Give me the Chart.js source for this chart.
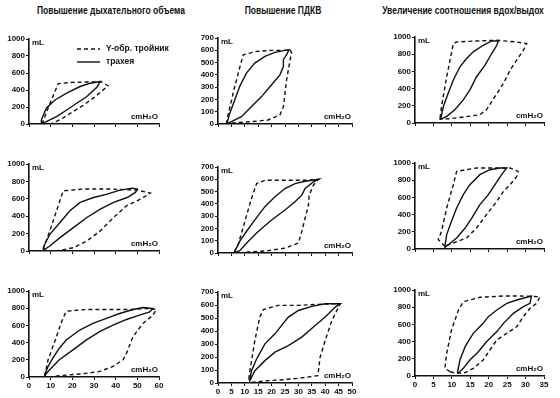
<!DOCTYPE html>
<html><head><meta charset="utf-8">
<script src="https://cdn.jsdelivr.net/npm/chart.js@4.4.1/dist/chart.umd.min.js"></script>
<style>
html,body{margin:0;padding:0;background:#fff}
body{width:560px;height:398px;position:relative;overflow:hidden;font-family:'Liberation Sans',Arial,sans-serif}
.t{position:absolute;font-weight:bold;font-size:10px;white-space:nowrap;color:#111;transform:translateX(-50%) scaleX(0.85)}
canvas{position:absolute}
</style></head><body>
<script>
// ---- text ----
const titles = ['Повышение дыхательного объема', 'Повышение ПДКВ', 'Увеличение соотношения вдох/выдох'];
const legendLabels = ['Y-обр. тройник', 'трахея'];
const yUnit = 'mL';
const xUnit = 'cmH₂O';

// ---- tick labels ----
const xTicksVT = [0, 10, 20, 30, 40, 50, 60];
const xTicksPEEP = [0, 5, 10, 15, 20, 25, 30, 35, 40, 45, 50];
const xTicksIE = [0, 5, 10, 15, 20, 25, 30, 35];
const yTicks1000 = [0, 200, 400, 600, 800, 1000];
const yTicks700 = [0, 100, 200, 300, 400, 500, 600, 700];

// ---- loops [pressure cmH2O, volume mL]; Y = Y-piece (dashed), T = trachea (solid) ----
const vt1Y = [[6,0],[9,200],[13.5,475],[20,490],[27,495],[33.5,495],[36.5,450],[30,310],[25,220],[20,140],[15,60],[10,0],[6,0]];
const vt1T = [[5.7,47],[8,185],[12,283],[17.4,362],[23.6,441],[28.2,480],[32.9,500],[31.3,433],[26.7,323],[22,244],[17.4,165],[12.7,87],[8,28],[5.7,8],[5.7,47]];
const vt2Y = [[6.5,19],[9.6,231],[12.7,462],[15.8,692],[25,712],[37.5,712],[50,700],[56,665],[51.5,596],[45,519],[39,385],[32.9,231],[26.7,115],[20.5,38],[14.3,8],[9.6,0],[6.5,19]];
const vt2T = [[6.5,38],[9.6,192],[14.3,327],[18.9,462],[23.6,558],[29.8,615],[36,654],[42,700],[47.6,723],[50,712],[49.1,673],[45.3,615],[39,558],[32.9,481],[26.7,385],[20.5,269],[14.3,154],[9.6,58],[7.3,19],[6.5,38]];
const vt3Y = [[7.2,8],[8.8,200],[11.9,412],[15,642],[17.2,765],[26.5,785],[37.2,785],[48,785],[54,796],[58.8,785],[57.2,719],[52.6,623],[48,469],[45,277],[43.4,200],[38.8,123],[32.6,65],[25,38],[14,15],[9.5,0],[7.2,8]];
const vt3T = [[7.2,27],[8.8,123],[11,219],[14,335],[17.2,431],[23.4,546],[29.5,623],[35.7,681],[41.8,738],[48,785],[52.6,808],[57.2,796],[55.7,758],[51,719],[45,669],[38.8,604],[32.6,527],[26.5,431],[20.3,315],[14,200],[9.5,85],[7.2,15],[7.2,27]];

const peep1Y = [[3.1,0],[3.75,74],[6.25,305],[9.4,564],[14.4,591],[20,599],[25,599],[26.9,605],[27.5,577],[26.9,523],[26.25,441],[25.6,360],[25,251],[24.4,142],[23.1,74],[18.75,33],[12.5,19],[6.25,11],[3.1,0]];
const peep1T = [[3.5,19],[4.4,87],[6.25,196],[8.1,305],[10.6,414],[13.75,496],[17.5,550],[21.25,583],[25,599],[26.5,605],[25.6,564],[24.4,523],[24.4,468],[23.1,400],[20,319],[16.25,223],[12.5,142],[8.75,60],[5,19],[3.5,5],[3.5,19]];
const peep2Y = [[6,8],[7.5,67],[10,256],[12.5,444],[14.4,565],[17.5,592],[25,592],[32.5,592],[37.5,600],[35.6,552],[34,471],[33.75,390],[32.5,283],[31.25,175],[30,81],[25,40],[18.75,19],[11.25,8],[7.5,0],[6,8]];
const peep2T = [[6.25,13],[8.1,94],[10.6,175],[13.75,269],[17.5,377],[21.25,458],[25,525],[28.75,565],[32.5,584],[37.5,600],[35.6,579],[32.5,525],[31.25,471],[28.75,417],[25,350],[20,269],[15,175],[11.25,94],[8.1,19],[6.9,8],[6.25,13]];
const peep3Y = [[11.5,31],[11.9,95],[13.75,327],[15.6,507],[16.9,564],[22.5,597],[30,597],[37.5,605],[43.75,610],[45.6,610],[45,584],[42.5,481],[40,327],[38.1,198],[37.25,57],[31.25,39],[25,26],[18.75,18],[12.5,5],[11.5,31]];
const peep3T = [[11.9,31],[12.5,95],[14.4,185],[17.5,301],[21.25,378],[23.75,443],[26.25,507],[30,558],[35,589],[40,610],[45.6,610],[43.75,584],[40,507],[36.25,443],[31.25,353],[26.25,288],[21.25,237],[17.5,172],[13.75,95],[11.9,18],[11.9,31]];

const ie1Y = [[6.8,58],[7.2,192],[8.6,538],[10.4,923],[11.3,942],[16.7,954],[22.2,962],[27.6,942],[30.3,923],[29.4,846],[27.6,731],[25.8,615],[24,462],[21.7,308],[19.4,154],[17.6,96],[13.1,69],[9.5,50],[6.8,46],[6.8,58]];
const ie1T = [[7,58],[7.7,192],[9,346],[10.4,500],[12.2,654],[14,750],[15.8,827],[18.5,904],[20.8,954],[22.6,954],[22.2,904],[20.8,808],[19,673],[16.7,538],[14.9,385],[13.1,269],[10.8,154],[8.6,77],[7,46],[7,58]];
const ie2Y = [[8.1,31],[6.3,109],[7.2,205],[8.6,477],[10.4,748],[11.3,903],[16.7,942],[22.2,942],[25.8,942],[28,903],[27.6,845],[25.8,748],[24,671],[22.2,554],[19.4,399],[16.7,244],[14,128],[10.4,70],[8.1,31]];
const ie2T = [[8.1,31],[8.6,167],[9.9,322],[11.3,477],[13.1,632],[14.9,748],[17.6,864],[20.3,922],[23.1,942],[24.9,942],[23.5,864],[21.7,748],[19.9,632],[17.6,516],[15.4,360],[13.6,244],[11.3,128],[9,50],[8.1,19],[8.1,31]];
const ie3Y = [[9.5,50],[8.1,89],[8.6,264],[9.9,535],[11.8,767],[13.1,864],[17.6,915],[24,930],[28.5,930],[33.9,922],[33,845],[31.2,787],[29.4,690],[27.6,574],[24.9,496],[22.2,419],[20.3,302],[18.5,186],[15.8,89],[13.6,39],[11.3,31],[9.5,50]];
const ie3T = [[11.5,39],[12.2,186],[13.6,341],[15.8,496],[18.5,612],[19.9,690],[22.2,767],[24.9,845],[27.6,884],[31.6,930],[31.2,845],[29.4,806],[26.7,729],[24,612],[22.2,516],[19.4,399],[17.2,283],[14.9,186],[13.1,89],[11.8,39],[11.5,39]];

// ---- layout (pixel geometry only) ----
const colX = [[29,159],[218,352],[415,544]];
const rowY = [
  [[39,124],[38,124],[37,123]],
  [[164,251],[167,253],[163,249]],
  [[291,377],[292,383],[290,376]]
];
const titleX = [111, 283, 463];
const INK = '#111';
const FONT = "'Liberation Sans', Arial, sans-serif";

titles.forEach((t, i) => {
  const d = document.createElement('div');
  d.className = 't'; d.textContent = t;
  d.style.left = titleX[i] + 'px'; d.style.top = '5px';
  document.body.appendChild(d);
});

Chart.defaults.font = { family: FONT, size: 8, weight: 'bold' };
Chart.defaults.color = INK;

const annot = {
  id: 'annot',
  afterDraw(chart, args, o) {
    const { ctx, chartArea: a } = chart;
    ctx.save();
    ctx.fillStyle = INK;
    ctx.font = 'bold 8px ' + FONT;
    ctx.textBaseline = 'middle';
    ctx.textAlign = 'left';
    ctx.fillText(yUnit, a.left + 3, a.top + 4);
    ctx.textAlign = 'right';
    ctx.fillText(xUnit, a.right - 1, a.bottom - 7);
    if (o.legend) {
      ctx.strokeStyle = INK; ctx.lineWidth = 1.4;
      ctx.font = 'bold 8.5px ' + FONT;
      ctx.textAlign = 'left';
      [[4,3],[]].forEach((dash, i) => {
        const y = a.top + 10 + i * 13;
        ctx.setLineDash(dash);
        ctx.beginPath(); ctx.moveTo(a.left + 48, y); ctx.lineTo(a.left + 71, y); ctx.stroke();
        ctx.fillText(legendLabels[i], a.left + 77, y);
      });
    }
    ctx.restore();
  }
};

const yW = 30, padTop = 8, padRight = 18, xH = 16;
const panels = [
  [vt1Y, vt1T, 0, 0, xTicksVT, yTicks1000],
  [peep1Y, peep1T, 0, 1, xTicksPEEP, yTicks700],
  [ie1Y, ie1T, 0, 2, xTicksIE, yTicks1000],
  [vt2Y, vt2T, 1, 0, xTicksVT, yTicks1000],
  [peep2Y, peep2T, 1, 1, xTicksPEEP, yTicks700],
  [ie2Y, ie2T, 1, 2, xTicksIE, yTicks1000],
  [vt3Y, vt3T, 2, 0, xTicksVT, yTicks1000],
  [peep3Y, peep3T, 2, 1, xTicksPEEP, yTicks700],
  [ie3Y, ie3T, 2, 2, xTicksIE, yTicks1000]
];

panels.forEach(([lY, lT, row, col, xt, yt]) => {
  const [L, R] = colX[col];
  const [T, B] = rowY[row][col];
  const w = yW + (R - L) + padRight;
  const h = padTop + (B - T) + xH;
  const cv = document.createElement('canvas');
  cv.width = w; cv.height = h;
  cv.style.left = (L - yW) + 'px'; cv.style.top = (T - padTop) + 'px';
  cv.style.width = w + 'px'; cv.style.height = h + 'px';
  document.body.appendChild(cv);
  const toPts = arr => arr.map(([x, y]) => ({ x, y }));
  const axis = (ticks, isX) => ({
    type: 'linear',
    min: ticks[0], max: ticks[ticks.length - 1],
    afterBuildTicks: s => { s.ticks = ticks.map(v => ({ value: v })); },
    afterFit: s => {
      if (isX) { s.height = xH; s.paddingLeft = 0; s.paddingRight = 0; }
      else { s.width = yW; s.paddingTop = 0; s.paddingBottom = 0; }
    },
    grid: { drawOnChartArea: false, drawTicks: true, tickLength: 3, color: INK, lineWidth: 1 },
    border: { color: INK, width: 1.6 },
    ticks: { display: isX ? row === 2 : true, padding: 1, color: INK, autoSkip: false, maxRotation: 0,
             callback: v => String(v) }
  });
  new Chart(cv, {
    type: 'scatter',
    data: { datasets: [
      { data: toPts(lY), showLine: true, borderColor: INK, borderWidth: 1.4, borderDash: [4, 3], pointRadius: 0, fill: false, tension: 0 },
      { data: toPts(lT), showLine: true, borderColor: INK, borderWidth: 1.4, pointRadius: 0, fill: false, tension: 0 }
    ] },
    options: {
      responsive: false, animation: false, devicePixelRatio: 1,
      layout: { padding: { left: 0, top: padTop, right: padRight, bottom: 0 } },
      plugins: { legend: { display: false }, tooltip: { enabled: false }, annot: { legend: row === 0 && col === 0 } },
      scales: { x: axis(xt, true), y: axis(yt, false) }
    },
    plugins: [annot]
  });
});
</script>
</body></html>
